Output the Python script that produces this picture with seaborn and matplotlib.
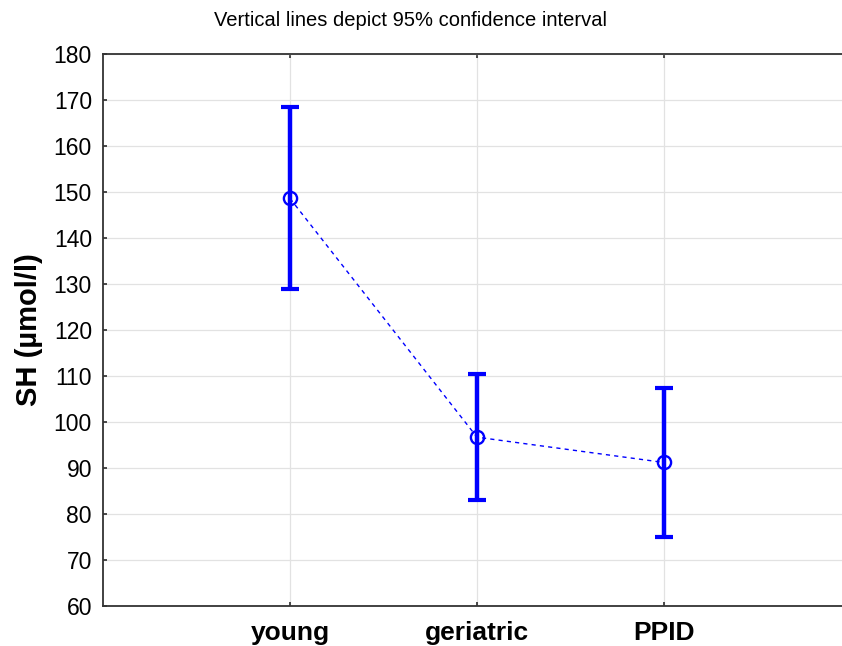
import matplotlib
matplotlib.use("Agg")
import matplotlib.pyplot as plt
import seaborn as sns
import pandas as pd
import numpy as np

categories = ["young", "geriatric", "PPID"]
means = [148.6, 96.7, 91.2]
ci_low = [128.9, 83.1, 75.1]
ci_high = [168.5, 110.4, 107.5]
yticks = list(range(60, 181, 10))

sns.set_theme(style="white")
plt.rcParams['font.family'] = ['Liberation Sans', 'DejaVu Sans']

df = pd.DataFrame({"group": categories, "SH": means})

fig = plt.figure(figsize=(8.42, 6.46), dpi=100)
ax = fig.add_axes([103/842, 1 - 606/646, 1 - 103/842, (606 - 54)/646])

blue = "#0000ff"
ax.errorbar(np.arange(len(categories)), means,
            yerr=[np.array(means) - np.array(ci_low), np.array(ci_high) - np.array(means)],
            fmt="none", ecolor=blue, elinewidth=3.2, capsize=6.8, capthick=3.0, zorder=3)

sns.lineplot(data=df, x=np.arange(len(categories)), y="SH", ax=ax, color=blue,
             linestyle=(0, (3, 3)), linewidth=1.0, marker="o", markersize=9.5,
             markerfacecolor="none", markeredgecolor=blue, markeredgewidth=1.7,
             zorder=4, sort=False)

ax.set_xlim(-1, 2.952)
ax.set_ylim(60, 180)
ax.set_yticks(yticks)
ax.set_xticks(range(len(categories)))
ax.set_xticklabels(categories, fontsize=19, fontweight="bold")
ax.tick_params(axis="y", labelsize=16.5, direction="in", length=3, color="#333333",
               pad=8, left=True, right=False)
ax.tick_params(axis="x", direction="in", length=3, color="#333333", pad=11,
               bottom=True, top=True)
for lab in ax.get_yticklabels():
    lab.set_color("black")
for lab in ax.get_xticklabels():
    lab.set_color("black")

ax.grid(True, color="#e2e2e2", linewidth=0.9)
ax.set_axisbelow(True)
for side in ["left", "bottom", "top"]:
    ax.spines[side].set_visible(True)
    ax.spines[side].set_color("#333333")
    ax.spines[side].set_linewidth(1.3)
ax.spines["right"].set_visible(False)

ax.set_xlabel("")
ax.set_ylabel("SH (µmol/l)", fontsize=21, fontweight="bold", color="black", labelpad=8)

fig.text(410/842, 1 - 21/646, "Vertical lines depict 95% confidence interval",
         ha="center", va="center", fontsize=14.5, color="black")

fig.savefig("out.png", dpi=100)
